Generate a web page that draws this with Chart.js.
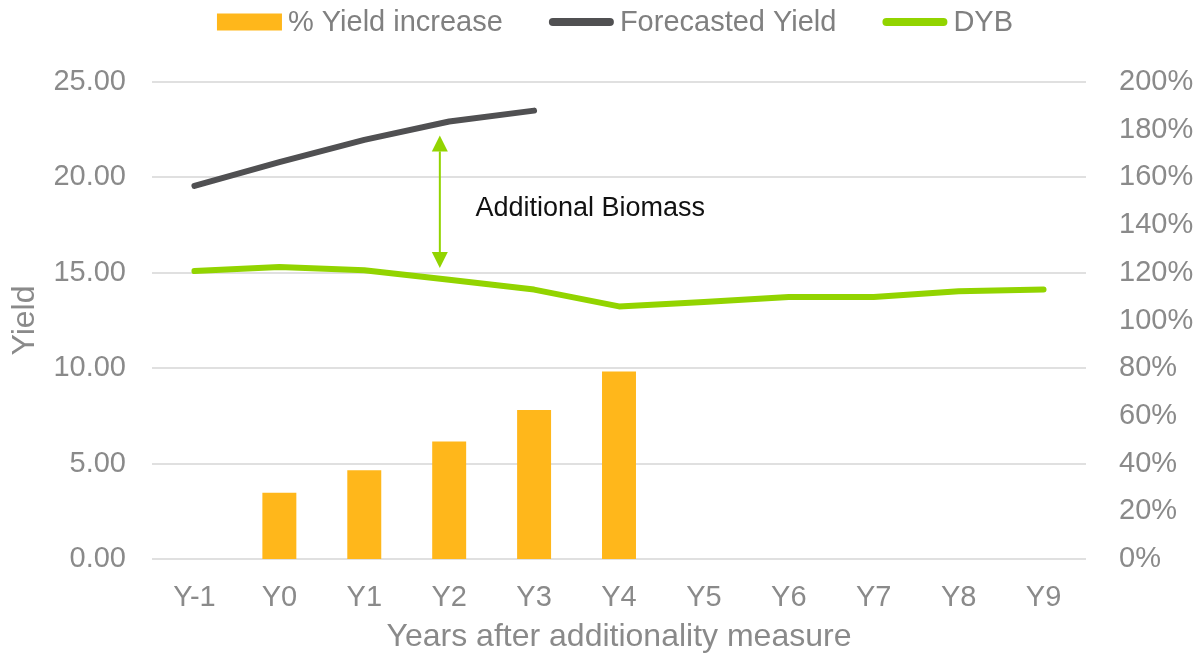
<!DOCTYPE html>
<html>
<head>
<meta charset="utf-8">
<title>Yield after additionality measure</title>
<script src="https://cdn.jsdelivr.net/npm/chart.js@4.4.1/dist/chart.umd.min.js"></script>
<style>
  html, body { margin: 0; padding: 0; background: #fff; }
  #wrap { width: 1196px; height: 659px; }
</style>
</head>
<body>
<div id="wrap"><canvas id="canvas-1"></canvas></div>
<script>
// data
var years = ['Y-1', 'Y0', 'Y1', 'Y2', 'Y3', 'Y4', 'Y5', 'Y6', 'Y7', 'Y8', 'Y9'];
var yieldIncrease = [null, 27.8, 37.2, 49.3, 62.5, 78.6, null, null, null, null, null]; // %
var forecastedYield = [19.55, 20.8, 21.97, 22.93, 23.5, null, null, null, null, null, null];
var dyb = [15.09, 15.3, 15.13, 14.64, 14.12, 13.24, 13.47, 13.73, 13.73, 14.03, 14.12];

var yieldTicks = { min: 0, max: 25, step: 5 };
var pctTicks = { min: 0, max: 200, step: 20 };

// "Additional Biomass" note (category index / yield units)
var arrowAt = 2.89;
var arrowFrom = 15.25;
var arrowTo = 22.2;
var noteText = 'Additional Biomass';
var noteAt = [3.31, 18.38];

var FONT = '"Liberation Sans", Arial, sans-serif';
var GREY = '#8a8a8a';

// legend drawn by hand so the spacing matches the original
var legendPlugin = {
  id: 'topLegend',
  afterDraw: function (chart) {
    var ctx = chart.ctx;
    var sets = chart.data.datasets;
    ctx.save();
    ctx.font = '29px ' + FONT;
    var widths = sets.map(function (d) { return ctx.measureText(d.label).width; });
    var total = 0;
    widths.forEach(function (w, i) { total += 65 + 6 + w + (i > 0 ? 46 : 0); });
    var x = 615 - total / 2;
    var y = 22;
    sets.forEach(function (d, i) {
      if (d.type === 'bar') {
        ctx.fillStyle = d.backgroundColor;
        ctx.fillRect(x, y - 8.5, 65, 17);
      } else {
        ctx.strokeStyle = d.borderColor;
        ctx.lineWidth = 8;
        ctx.lineCap = 'round';
        ctx.beginPath();
        ctx.moveTo(x + 4, y);
        ctx.lineTo(x + 61, y);
        ctx.stroke();
      }
      ctx.fillStyle = '#808080';
      ctx.textAlign = 'left';
      ctx.textBaseline = 'middle';
      ctx.fillText(d.label, x + 71, y + 1);
      x += 65 + 6 + widths[i] + 46;
    });
    ctx.restore();
  }
};

var arrowPlugin = {
  id: 'biomassArrow',
  afterDatasetsDraw: function (chart) {
    var ctx = chart.ctx;
    var xs = chart.scales.x;
    var ys = chart.scales.y;
    var px = xs.getPixelForValue(arrowAt);
    var top = ys.getPixelForValue(arrowTo);
    var bottom = ys.getPixelForValue(arrowFrom);
    var head = 16;
    ctx.save();
    ctx.strokeStyle = '#92D400';
    ctx.fillStyle = '#92D400';
    ctx.lineWidth = 2;
    ctx.beginPath();
    ctx.moveTo(px, top + head);
    ctx.lineTo(px, bottom - head);
    ctx.stroke();
    ctx.beginPath();
    ctx.moveTo(px, top);
    ctx.lineTo(px - 8, top + head);
    ctx.lineTo(px + 8, top + head);
    ctx.closePath();
    ctx.fill();
    ctx.beginPath();
    ctx.moveTo(px, bottom);
    ctx.lineTo(px - 8, bottom - head);
    ctx.lineTo(px + 8, bottom - head);
    ctx.closePath();
    ctx.fill();
    ctx.font = '27px ' + FONT;
    ctx.fillStyle = '#111111';
    ctx.textAlign = 'left';
    ctx.textBaseline = 'middle';
    ctx.fillText(noteText, xs.getPixelForValue(noteAt[0]), ys.getPixelForValue(noteAt[1]));
    ctx.restore();
  }
};

var comboChart = new Chart(document.getElementById('canvas-1'), {
  type: 'bar',
  data: {
    labels: years,
    datasets: [{
      type: 'bar',
      label: '% Yield increase',
      data: yieldIncrease,
      yAxisID: 'y1',
      backgroundColor: '#FFB71B',
      barPercentage: 0.4,
      categoryPercentage: 1
    }, {
      type: 'line',
      label: 'Forecasted Yield',
      data: forecastedYield,
      yAxisID: 'y',
      borderColor: '#505052',
      backgroundColor: '#505052',
      borderWidth: 6,
      borderCapStyle: 'round',
      borderJoinStyle: 'round',
      pointRadius: 0,
      tension: 0
    }, {
      type: 'line',
      label: 'DYB',
      data: dyb,
      yAxisID: 'y',
      borderColor: '#92D400',
      backgroundColor: '#92D400',
      borderWidth: 6,
      borderCapStyle: 'round',
      borderJoinStyle: 'round',
      pointRadius: 0,
      tension: 0
    }]
  },
  options: {
    responsive: true,
    maintainAspectRatio: false,
    animation: false,
    layout: { padding: { top: 82, left: 0, right: 0, bottom: 0 } },
    plugins: {
      legend: { display: false },
      tooltip: { enabled: false }
    },
    scales: {
      x: {
        grid: { display: false },
        border: { display: false },
        ticks: { color: GREY, font: { family: FONT, size: 29 }, padding: 14 },
        title: {
          display: true,
          text: 'Years after additionality measure',
          color: GREY,
          font: { family: FONT, size: 32 },
          padding: { top: 0, bottom: 3 }
        },
        afterFit: function (scale) { scale.height = 100; }
      },
      y: {
        position: 'left',
        min: yieldTicks.min,
        max: yieldTicks.max,
        grid: { color: '#e0e0e0', lineWidth: 2, drawTicks: false },
        border: { display: false },
        ticks: {
          stepSize: yieldTicks.step,
          color: GREY,
          font: { family: FONT, size: 29 },
          padding: 26,
          callback: function (v) { return v.toFixed(2); }
        },
        title: {
          display: true,
          text: 'Yield',
          color: GREY,
          font: { family: FONT, size: 32 },
          padding: { top: 6, bottom: 0 }
        },
        afterFit: function (scale) { scale.width = 152; }
      },
      y1: {
        position: 'right',
        min: pctTicks.min,
        max: pctTicks.max,
        grid: { display: false },
        border: { display: false },
        ticks: {
          stepSize: pctTicks.step,
          autoSkip: false,
          color: GREY,
          font: { family: FONT, size: 29 },
          padding: 25,
          callback: function (v) { return v + '%'; }
        },
        afterFit: function (scale) { scale.width = 110; }
      }
    }
  },
  plugins: [legendPlugin, arrowPlugin]
});
</script>
</body>
</html>
